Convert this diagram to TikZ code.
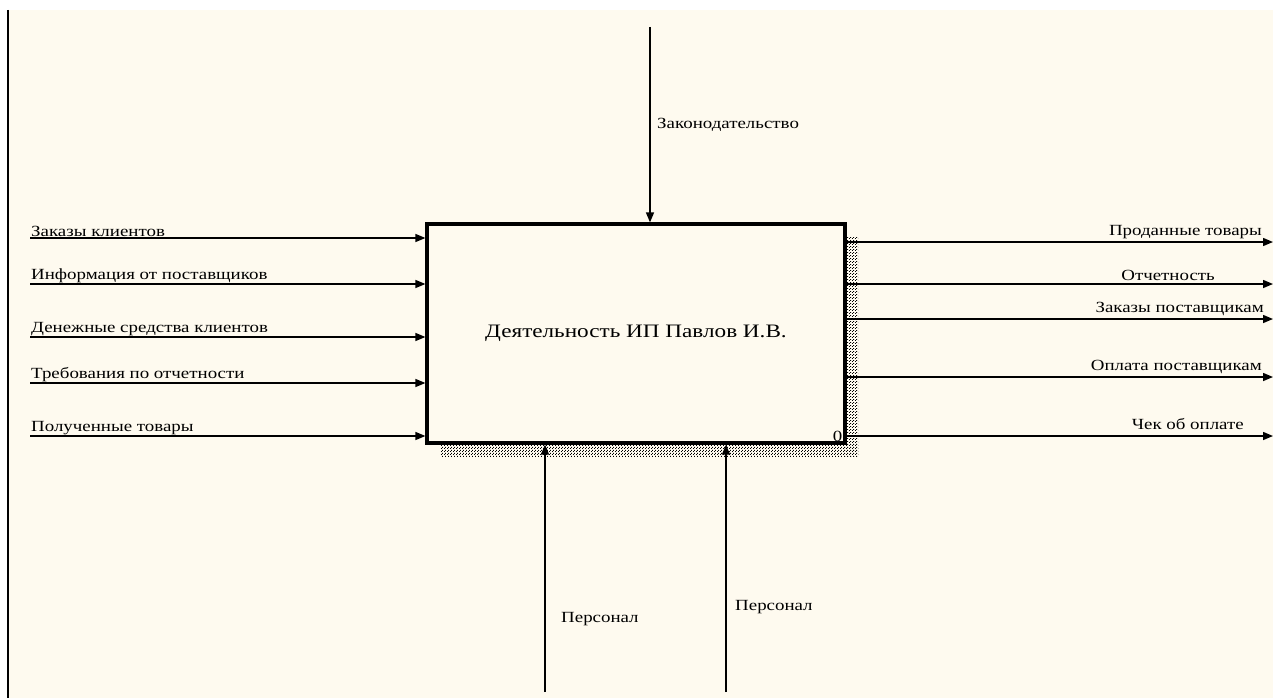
\documentclass[tikz,border=0pt]{standalone}
\usepackage{fontspec}
\setmainfont[FakeStretch=1.22]{Liberation Serif}
\usepackage{tikz}
\usetikzlibrary{arrows.meta,patterns,calc}
\definecolor{cream}{RGB}{254,250,239}
\pgfdeclarepatternformonly{shadowdots}{\pgfpointorigin}{\pgfpoint{3pt}{3pt}}{\pgfpoint{3pt}{3pt}}{%
  \pgfpathrectangle{\pgfpointorigin}{\pgfpoint{1.1pt}{1.1pt}}%
  \pgfpathrectangle{\pgfpoint{1.5pt}{1.5pt}}{\pgfpoint{1.1pt}{1.1pt}}%
  \pgfusepath{fill}}
\tikzstyle{flow} = [line width=1.4pt, -{Triangle[length=10pt,width=8pt]}]
\tikzstyle{lbl} = [inner sep=1pt, font=\fontsize{15.5}{18}\selectfont]
\tikzstyle{func} = [draw, line width=3.2pt, fill=cream, minimum width=418pt, minimum height=219pt, inner sep=0pt, font=\fontsize{19}{22}\selectfont]

\begin{document}
\begin{tikzpicture}[x=1pt,y=-1pt]
\useasboundingbox (0,0) rectangle (1273,698);
    \fill[white] (0,0) rectangle (1273,698);
    \fill[cream] (8,10) rectangle (1273,698);
    \draw[line width=2pt] (8,10) -- (8,698);

    % shadow of the function box
    \fill[pattern=shadowdots] (845,237) rectangle (858,456);
    \fill[pattern=shadowdots] (440,443) rectangle (858,456);

    \node[func] (box) at (636,333.5) {Деятельность ИП Павлов И.В.};

	% control
    \coordinate (ctl) at (650,27);
    \draw[flow] (ctl) -- (ctl |- box.north);
    \node[lbl, anchor=west] (law) at (656,125) {Законодательство};

	% inputs
    \coordinate (in1) at (30,238);
    \coordinate (in2) at (30,284);
    \coordinate (in3) at (30,337);
    \coordinate (in4) at (30,383);
    \coordinate (in5) at (30,436);
    \draw[flow] (in1) -- (in1 -| box.west);
    \draw[flow] (in2) -- (in2 -| box.west);
    \draw[flow] (in3) -- (in3 -| box.west);
    \draw[flow] (in4) -- (in4 -| box.west);
    \draw[flow] (in5) -- (in5 -| box.west);
    \node[lbl, anchor=south west] (l1) at (in1) {Заказы клиентов};
    \node[lbl, anchor=south west] (l2) at (in2) {Информация от поставщиков};
    \node[lbl, anchor=south west] (l3) at (in3) {Денежные средства клиентов};
    \node[lbl, anchor=south west] (l4) at (in4) {Требования по отчетности};
    \node[lbl, anchor=south west] (l5) at (in5) {Полученные товары};

	% outputs
    \coordinate (out1) at (1273,242);
    \coordinate (out2) at (1273,284);
    \coordinate (out3) at (1273,319);
    \coordinate (out4) at (1273,377);
    \coordinate (out5) at (1273,436);
    \draw[flow] (out1 -| box.east) -- (out1);
    \draw[flow] (out2 -| box.east) -- (out2);
    \draw[flow] (out3 -| box.east) -- (out3);
    \draw[flow] (out4 -| box.east) -- (out4);
    \draw[flow] (out5 -| box.east) -- (out5);
    \node[lbl, anchor=south east] (r1) at ($(out1)+(-10,-2)$) {Проданные товары};
    \node[lbl, anchor=south east] (r2) at ($(out2)+(-57,-2)$) {Отчетность};
    \node[lbl, anchor=south east] (r3) at ($(out3)+(-8,-2)$) {Заказы поставщикам};
    \node[lbl, anchor=south east] (r4) at ($(out4)+(-10,-2)$) {Оплата поставщикам};
    \node[lbl, anchor=south east] (r5) at ($(out5)+(-28,-5)$) {Чек об оплате};

    \node[lbl, anchor=south east] (num) at ($(box.south east)+(-3,-2)$) {0};

	% mechanisms
    \coordinate (mec1) at (545,692);
    \coordinate (mec2) at (726,692);
    \draw[flow] (mec1) -- (mec1 |- box.south);
    \draw[flow] (mec2) -- (mec2 |- box.south);
    \node[lbl, anchor=west] (p1) at (560,619) {Персонал};
    \node[lbl, anchor=west] (p2) at (734,607) {Персонал};
\end{tikzpicture}
\end{document}
